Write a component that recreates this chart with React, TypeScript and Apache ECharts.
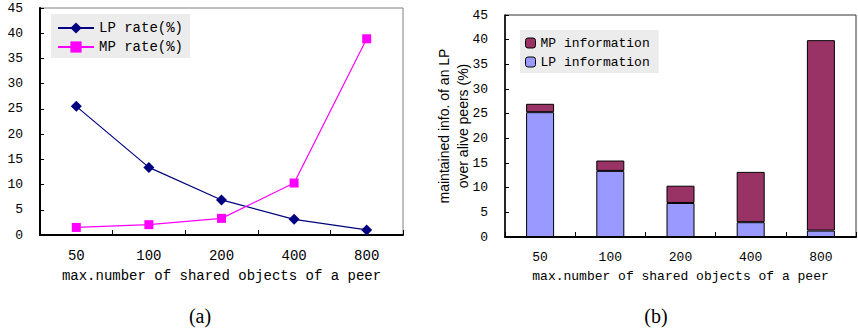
import React, { useEffect, useRef } from "react";
import * as echarts from "echarts";

const categories = ["50", "100", "200", "400", "800"];
const lpRate = [25.5, 13.4, 6.95, 3.1, 1.0];
const mpRate = [1.5, 2.05, 3.3, 10.3, 38.9];
const lpInfo = [25.3, 13.4, 6.9, 3.0, 1.3];
const mpInfo = [1.7, 2.1, 3.5, 10.2, 38.6];
const yTicks = { min: 0, max: 45, interval: 5 };
const xName = "max.number of shared objects of a peer";
const yNameB = "maintained info. of an LP\nover alive peers (%)";

const MONO = "'Liberation Mono', 'DejaVu Sans Mono', monospace";
const SANS = "'Liberation Sans', Arial, sans-serif";
const SERIF = "'Liberation Serif', 'DejaVu Serif', serif";

export default function App() {
  const ref = useRef<HTMLDivElement>(null);
  useEffect(() => {
    if (!ref.current) return;
    const chart = echarts.init(ref.current, undefined, { renderer: "svg" });
    const option: any = {
      animation: false,
      backgroundColor: "#ffffff",
      textStyle: { fontFamily: MONO, color: "#000" },
      grid: [
        { left: 40, right: 455, top: 8, bottom: 97, show: true, borderColor: "#808080", borderWidth: 1, backgroundColor: "transparent" },
        { left: 505, right: 2, top: 15, bottom: 95, show: true, borderColor: "#333333", borderWidth: 1, backgroundColor: "transparent" },
      ],
      legend: [
        {
          orient: "vertical",
          left: 51,
          top: 14,
          padding: [7, 7, 4, 6],
          backgroundColor: "#ececec",
          itemWidth: 36,
          itemHeight: 14,
          itemGap: 5,
          data: ["LP rate(%)", "MP rate(%)"],
          textStyle: { fontFamily: MONO, fontSize: 14, color: "#000", lineHeight: 14 },
        },
        {
          orient: "vertical",
          left: 520,
          top: 30,
          padding: [6, 9, 4, 5],
          backgroundColor: "#ececec",
          itemWidth: 10,
          itemHeight: 10,
          itemGap: 5,
          data: ["MP information", "LP information"],
          itemStyle: { borderColor: "#000", borderWidth: 1 },
          textStyle: { fontFamily: MONO, fontSize: 13, color: "#000", lineHeight: 14 },
        },
      ],
      xAxis: [
        {
          type: "category",
          gridIndex: 0,
          data: categories,
          boundaryGap: true,
          name: xName,
          nameLocation: "middle",
          nameGap: 34,
          nameTextStyle: { fontFamily: MONO, fontSize: 14, color: "#000" },
          axisLine: { lineStyle: { color: "#000", width: 2 } },
          axisTick: { show: true, inside: true, length: 5, lineStyle: { color: "#000" } },
          axisLabel: { fontFamily: MONO, fontSize: 14, color: "#000", margin: 14 },
          splitLine: { show: false },
        },
        {
          type: "category",
          gridIndex: 1,
          data: categories,
          boundaryGap: true,
          name: xName,
          nameLocation: "middle",
          nameGap: 33,
          nameTextStyle: { fontFamily: MONO, fontSize: 13, color: "#000" },
          axisLine: { lineStyle: { color: "#000", width: 2 } },
          axisTick: { show: true, inside: true, length: 5, lineStyle: { color: "#000" } },
          axisLabel: { fontFamily: MONO, fontSize: 13, color: "#000", margin: 14 },
          splitLine: { show: false },
        },
      ],
      yAxis: [
        {
          type: "value",
          gridIndex: 0,
          min: yTicks.min,
          max: yTicks.max,
          interval: yTicks.interval,
          axisLine: { show: true, lineStyle: { color: "#000", width: 2 } },
          axisTick: { show: true, inside: true, length: 4, lineStyle: { color: "#000" } },
          axisLabel: { fontFamily: MONO, fontSize: 13, color: "#000", margin: 17 },
          splitLine: { show: false },
        },
        {
          type: "value",
          gridIndex: 1,
          min: yTicks.min,
          max: yTicks.max,
          interval: yTicks.interval,
          name: yNameB,
          nameLocation: "middle",
          nameRotate: 90,
          nameGap: 33,
          nameMoveOverlap: false,
          nameTextStyle: { fontFamily: SANS, fontSize: 14, color: "#000", lineHeight: 19 },
          axisLine: { show: true, lineStyle: { color: "#000", width: 1.5 } },
          axisTick: { show: true, inside: true, length: 4, lineStyle: { color: "#000" } },
          axisLabel: { fontFamily: MONO, fontSize: 13, color: "#000", margin: 17 },
          splitLine: { show: false },
        },
      ],
      series: [
        {
          name: "LP rate(%)",
          type: "line",
          xAxisIndex: 0,
          yAxisIndex: 0,
          data: lpRate,
          symbol: "diamond",
          symbolSize: 11,
          lineStyle: { color: "#000080", width: 1.2 },
          itemStyle: { color: "#000080" },
        },
        {
          name: "MP rate(%)",
          type: "line",
          xAxisIndex: 0,
          yAxisIndex: 0,
          data: mpRate,
          symbol: "rect",
          symbolSize: 9,
          lineStyle: { color: "#ff00ff", width: 1.2 },
          itemStyle: { color: "#ff00ff" },
        },
        {
          name: "LP information",
          type: "bar",
          xAxisIndex: 1,
          yAxisIndex: 1,
          stack: "info",
          data: lpInfo,
          barWidth: 28,
          itemStyle: { color: "#9999ff", borderColor: "#000", borderWidth: 1 },
        },
        {
          name: "MP information",
          type: "bar",
          xAxisIndex: 1,
          yAxisIndex: 1,
          stack: "info",
          data: mpInfo,
          barWidth: 28,
          itemStyle: { color: "#993366", borderColor: "#000", borderWidth: 1 },
        },
      ],
      graphic: [
        {
          type: "text",
          x: 200,
          y: 316,
          style: { text: "(a)", fontFamily: SERIF, fontSize: 20, fill: "#000", align: "center", verticalAlign: "middle" },
        },
        {
          type: "text",
          x: 656,
          y: 316,
          style: { text: "(b)", fontFamily: SERIF, fontSize: 20, fill: "#000", align: "center", verticalAlign: "middle" },
        },
      ],
    };
    chart.setOption(option);
    return () => chart.dispose();
  }, []);
  return (
    <div
      ref={ref}
      style={{ position: "absolute", left: 0, top: 0, width: 858, height: 332 }}
    />
  );
}
